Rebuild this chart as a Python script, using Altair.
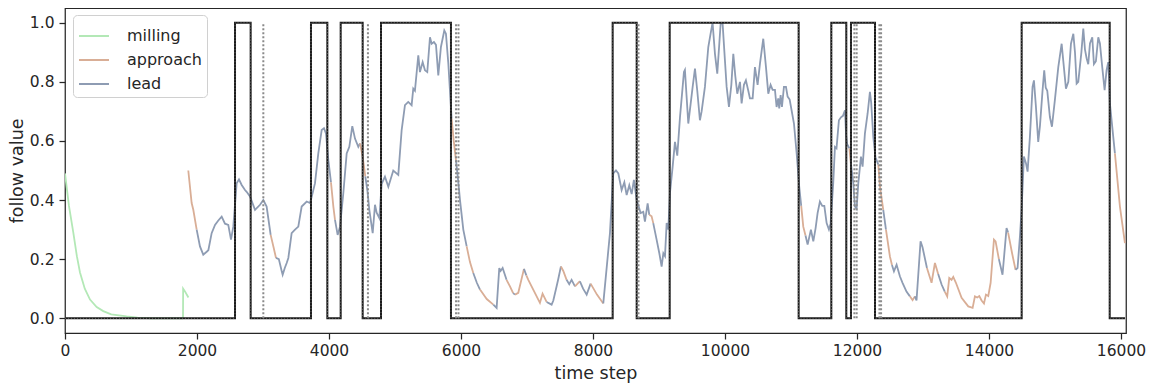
import altair as alt
import pandas as pd

# ---------------- data ----------------
phase_names = ["milling", "approach", "lead"]
phase_colors = ["#b3e8b6", "#d9ae96", "#8e9cb3"]

milling_x = [0, 60, 126, 180, 227, 300, 379, 480, 580, 700, 934, 1100, 1300, 1788]
milling_y = [0.49, 0.38, 0.29, 0.21, 0.155, 0.10, 0.063, 0.038, 0.024, 0.013, 0.006, 0.002, 0.0, 0.0]
milling2_x = [1788, 1790, 1820, 1870]
milling2_y = [0.0, 0.10, 0.09, 0.07]

# follow value; phase code = colour of the piece that starts at this point
follow_x = [
    1868, 1919, 1944, 1995, 2045, 2095, 2147, 2172, 2222, 2273, 2320, 2374, 2424, 2474, 2515, 2550,
    2601, 2636, 2677, 2727, 2752, 2803, 2879, 2955, 3005, 3055, 3116, 3160, 3197, 3240, 3283, 3298,
    3330, 3359, 3384, 3434, 3485, 3535, 3586, 3662, 3712, 3737, 3788, 3838, 3889, 3924, 3955, 3990,
    4030, 4066, 4091, 4131, 4167, 4217, 4268, 4308, 4353, 4394, 4444, 4470, 4510, 4550, 4583, 4611,
    4662, 4697, 4722, 4763, 4798, 4848, 4899, 4974, 5050, 5101, 5151, 5201, 5252, 5277, 5302, 5353,
    5378, 5419, 5454, 5489, 5530, 5555, 5590, 5621, 5656, 5696, 5747, 5772, 5808, 5858, 5890, 5924,
    5955, 5985, 6035, 6086, 6136, 6186, 6240, 6288, 6390, 6490, 6540, 6580, 6600, 6631, 6690, 6742,
    6790, 6818, 6868, 6954, 6990, 7020, 7110, 7196, 7236, 7297, 7373, 7399, 7449, 7474, 7514, 7550,
    7600, 7640, 7676, 7727, 7777, 7802, 7850, 7904, 7964, 8060, 8156, 8257, 8307, 8348, 8384, 8434,
    8475, 8510, 8550, 8586, 8620, 8662, 8722, 8762, 8787, 8828, 8853, 8888, 8913, 8964, 9005, 9040,
    9066, 9091, 9116, 9141, 9166, 9207, 9242, 9277, 9318, 9378, 9393, 9444, 9510, 9545, 9580, 9620,
    9646, 9696, 9747, 9782, 9812, 9848, 9883, 9914, 9934, 9964, 9999, 10025, 10060, 10096, 10126, 10156,
    10186, 10227, 10252, 10287, 10317, 10353, 10378, 10419, 10454, 10494, 10530, 10580, 10621, 10656, 10691, 10722,
    10757, 10782, 10807, 10822, 10843, 10863, 10893, 10924, 10949, 10980, 11009, 11045, 11085, 11125, 11155, 11186,
    11220, 11252, 11302, 11338, 11373, 11403, 11438, 11474, 11505, 11540, 11575, 11600, 11640, 11666, 11690, 11726,
    11757, 11787, 11818, 11835, 11850, 11885, 11910, 11944, 11969, 11994, 12020, 12060, 12085, 12120, 12161, 12196,
    12215, 12247, 12280, 12323, 12348, 12398, 12439, 12499, 12530, 12560, 12600, 12650, 12690, 12750, 12802, 12842,
    12877, 12902, 12963, 12993, 13060, 13130, 13181, 13230, 13282, 13330, 13367, 13398, 13433, 13459, 13499, 13585,
    13686, 13752, 13787, 13822, 13853, 13888, 13924, 13954, 13989, 14025, 14075, 14100, 14150, 14205, 14266, 14290,
    14350, 14402, 14433, 14469, 14494, 14529, 14560, 14585, 14620, 14660, 14681, 14710, 14746, 14772, 14812, 14837,
    14860, 14883, 14923, 14954, 14999, 15050, 15101, 15126, 15166, 15202, 15242, 15278, 15303, 15328, 15353, 15400,
    15429, 15454, 15479, 15504, 15530, 15565, 15590, 15620, 15656, 15681, 15716, 15752, 15782, 15807, 15822, 15832,
    15908, 15984, 16060,
]
follow_y = [
    0.50, 0.39, 0.367, 0.30, 0.243, 0.215, 0.225, 0.23, 0.288, 0.316, 0.33, 0.344, 0.32, 0.316, 0.266, 0.31,
    0.457, 0.47, 0.451, 0.434, 0.428, 0.412, 0.367, 0.384, 0.40, 0.378, 0.282, 0.24, 0.204, 0.20, 0.16, 0.147,
    0.17, 0.187, 0.204, 0.288, 0.30, 0.31, 0.378, 0.395, 0.39, 0.41, 0.457, 0.558, 0.637, 0.643, 0.625, 0.535,
    0.46, 0.378, 0.333, 0.282, 0.31, 0.423, 0.558, 0.58, 0.65, 0.608, 0.58, 0.592, 0.547, 0.48, 0.43, 0.367,
    0.288, 0.384, 0.357, 0.339, 0.455, 0.479, 0.445, 0.50, 0.485, 0.637, 0.721, 0.732, 0.721, 0.777, 0.77, 0.89,
    0.833, 0.867, 0.839, 0.833, 0.951, 0.929, 0.935, 0.925, 0.822, 0.918, 0.974, 0.963, 0.862, 0.676, 0.60, 0.535,
    0.47, 0.40, 0.30, 0.243, 0.19, 0.153, 0.12, 0.097, 0.065, 0.046, 0.035, 0.17, 0.16, 0.17, 0.13, 0.108,
    0.085, 0.08, 0.086, 0.167, 0.145, 0.13, 0.09, 0.052, 0.083, 0.055, 0.046, 0.06, 0.108, 0.133, 0.175, 0.16,
    0.13, 0.115, 0.13, 0.108, 0.12, 0.125, 0.10, 0.08, 0.117, 0.08, 0.05, 0.288, 0.49, 0.50, 0.49, 0.434,
    0.46, 0.417, 0.45, 0.42, 0.468, 0.40, 0.356, 0.36, 0.327, 0.389, 0.35, 0.345, 0.322, 0.266, 0.22, 0.175,
    0.22, 0.21, 0.322, 0.30, 0.423, 0.513, 0.597, 0.55, 0.68, 0.833, 0.84, 0.659, 0.783, 0.845, 0.77, 0.67,
    0.70, 0.783, 0.918, 0.963, 1.0, 0.895, 0.828, 0.93, 0.997, 0.997, 0.873, 0.783, 0.715, 0.79, 0.895, 0.82,
    0.76, 0.80, 0.727, 0.79, 0.805, 0.77, 0.744, 0.744, 0.85, 0.79, 0.862, 0.946, 0.85, 0.76, 0.79, 0.773,
    0.773, 0.715, 0.744, 0.71, 0.755, 0.715, 0.783, 0.783, 0.75, 0.74, 0.704, 0.659, 0.56, 0.445, 0.38, 0.31,
    0.28, 0.249, 0.30, 0.26, 0.305, 0.356, 0.395, 0.38, 0.38, 0.322, 0.30, 0.32, 0.457, 0.58, 0.575, 0.67,
    0.68, 0.685, 0.704, 0.62, 0.59, 0.575, 0.52, 0.457, 0.378, 0.37, 0.457, 0.547, 0.513, 0.625, 0.693, 0.766,
    0.73, 0.614, 0.545, 0.52, 0.445, 0.367, 0.30, 0.209, 0.18, 0.159, 0.181, 0.142, 0.12, 0.09, 0.074, 0.061,
    0.074, 0.06, 0.26, 0.24, 0.17, 0.12, 0.187, 0.15, 0.114, 0.09, 0.074, 0.136, 0.13, 0.14, 0.12, 0.069,
    0.04, 0.035, 0.074, 0.07, 0.075, 0.06, 0.05, 0.08, 0.075, 0.12, 0.266, 0.26, 0.20, 0.147, 0.305, 0.29,
    0.22, 0.164, 0.17, 0.277, 0.367, 0.547, 0.525, 0.496, 0.614, 0.783, 0.805, 0.72, 0.597, 0.65, 0.772, 0.839,
    0.78, 0.77, 0.681, 0.648, 0.74, 0.85, 0.929, 0.87, 0.777, 0.80, 0.929, 0.963, 0.90, 0.794, 0.80, 0.90,
    0.98, 0.91, 0.88, 0.86, 0.93, 0.951, 0.86, 0.87, 0.951, 0.93, 0.85, 0.772, 0.84, 0.867, 0.80, 0.727,
    0.558, 0.378, 0.254,
]
follow_phase = list(
    "aaalllllllllllll"
    "llllllllllaallll"
    "lllllllllllllllla"
    "alllllllllaallll"
    "llllllllllllllll"
    "llllllllllllaal"
    "lllaallaalllllaal"
    "aalaaaaalllllaa"
    "lllaalllaallllll"
    "llllllllllaallll"
    "llllllllllllllll"
    "llllllllllllllll"
    "llllllllllllllll"
    "llllllllllllllaal"
    "llllllllllllllll"
    "llllalllllllllll"
    "llaalaallllllaal"
    "lllaaallaaaaaaaa"
    "aaaaaaaaaaalllaal"
    "llllllllllllllll"
    "llllllllllllllll"
    "llllllllllllllaa"
    "aaa"
)

# binary state (step)
step_x = [0, 2576, 2813, 3727, 3975, 4177, 4510, 4788, 5848, 8298, 8662, 9162,
          11116, 11611, 11838, 11909, 12273, 14495, 15829, 16061]
step_v = [0, 1, 0, 1, 0, 1, 0, 1, 0, 1, 0, 1, 0, 1, 0, 1, 0, 1, 0, 0]

# dotted event markers
event_x = [3005, 4590, 5925, 5962, 8690, 11960, 11995, 12340, 12365]

x_ticks = [0, 2000, 4000, 6000, 8000, 10000, 12000, 14000, 16000]
y_ticks = [0.0, 0.2, 0.4, 0.6, 0.8, 1.0]

# ---------------- build tables ----------------
code = {"m": "milling", "a": "approach", "l": "lead"}
rows = []
seg = 0
for xs, ys in ((milling_x, milling_y), (milling2_x, milling2_y)):
    for k, (x, y) in enumerate(zip(xs, ys)):
        rows.append({"x": x, "y": y, "phase": "milling", "seg": seg, "o": k})
    seg += 1

n = min(len(follow_x), len(follow_y))
ph = (follow_phase + ["a"] * n)[:n]
i = 0
while i < n - 1:
    j = i
    while j + 1 < n - 1 and ph[j + 1] == ph[i]:
        j += 1
    end = j + 1
    for k in range(i, end + 1):
        rows.append({"x": follow_x[k], "y": follow_y[k], "phase": code[ph[i]], "seg": seg, "o": k})
    seg += 1
    i = end
follow_df = pd.DataFrame(rows)

step_df = pd.DataFrame({"x": step_x, "v": step_v})
event_df = pd.DataFrame({"x": event_x, "y0": [0] * len(event_x), "y1": [1] * len(event_x)})

xscale = alt.Scale(domain=[0, 16076], nice=False, zero=False)
yscale = alt.Scale(domain=[-0.05, 1.05], nice=False, zero=False)

x_axis = alt.Axis(values=x_ticks, format="d", title="time step", grid=False, labelFlush=False)
y_axis = alt.Axis(values=y_ticks, format=".1f", title="follow value", grid=False, labelFlush=False)

follow = alt.Chart(follow_df).mark_line(strokeWidth=1.8, clip=True).encode(
    x=alt.X("x:Q", scale=xscale, axis=x_axis),
    y=alt.Y("y:Q", scale=yscale, axis=y_axis),
    color=alt.Color(
        "phase:N",
        scale=alt.Scale(domain=phase_names, range=phase_colors),
        legend=alt.Legend(
            title=None, orient="none", legendX=8, legendY=7,
            symbolType="stroke", symbolStrokeWidth=2, symbolSize=900,
            labelFontSize=16, labelColor="#262626", labelFont="DejaVu Sans",
            labelOffset=17, rowPadding=-3, padding=5,
            fillColor="white", strokeColor="#d0d0d0", cornerRadius=4,
        ),
    ),
    detail="seg:N",
    order="o:Q",
)

step = alt.Chart(step_df).mark_line(interpolate="step-after", color="#1a1a1a", strokeWidth=2.0).encode(
    x=alt.X("x:Q", scale=xscale), y=alt.Y("v:Q", scale=yscale)
)
step_dot = alt.Chart(step_df).mark_line(interpolate="step-after", color="#6a6a6a", strokeWidth=1.0,
                                         strokeDash=[1, 2]).encode(
    x=alt.X("x:Q", scale=xscale), y=alt.Y("v:Q", scale=yscale)
)

events = alt.Chart(event_df).mark_rule(color="#8a8a8a", strokeWidth=2, strokeDash=[2, 2]).encode(
    x=alt.X("x:Q", scale=xscale), y=alt.Y("y0:Q", scale=yscale), y2="y1:Q"
)

chart = alt.layer(follow, step, step_dot, events).properties(
    width=1061, height=325,
    autosize=alt.AutoSizeParams(type="none"),
    padding={"left": 57, "top": 0, "right": 20, "bottom": 50},
).configure_view(
    stroke="#262626", strokeWidth=1.25
).configure_axis(
    labelFont="DejaVu Sans", titleFont="DejaVu Sans",
    labelFontSize=15.5, titleFontSize=17.5, labelColor="#262626", titleColor="#262626",
    titleFontWeight="normal", domain=False,
    tickColor="#262626", tickSize=6, tickWidth=1.25,
).configure_axisX(
    labelPadding=4, titlePadding=6
).configure_axisY(
    labelPadding=5, titlePadding=3
)

chart.save("out.html", embed_options={"renderer": "svg", "actions": False})
